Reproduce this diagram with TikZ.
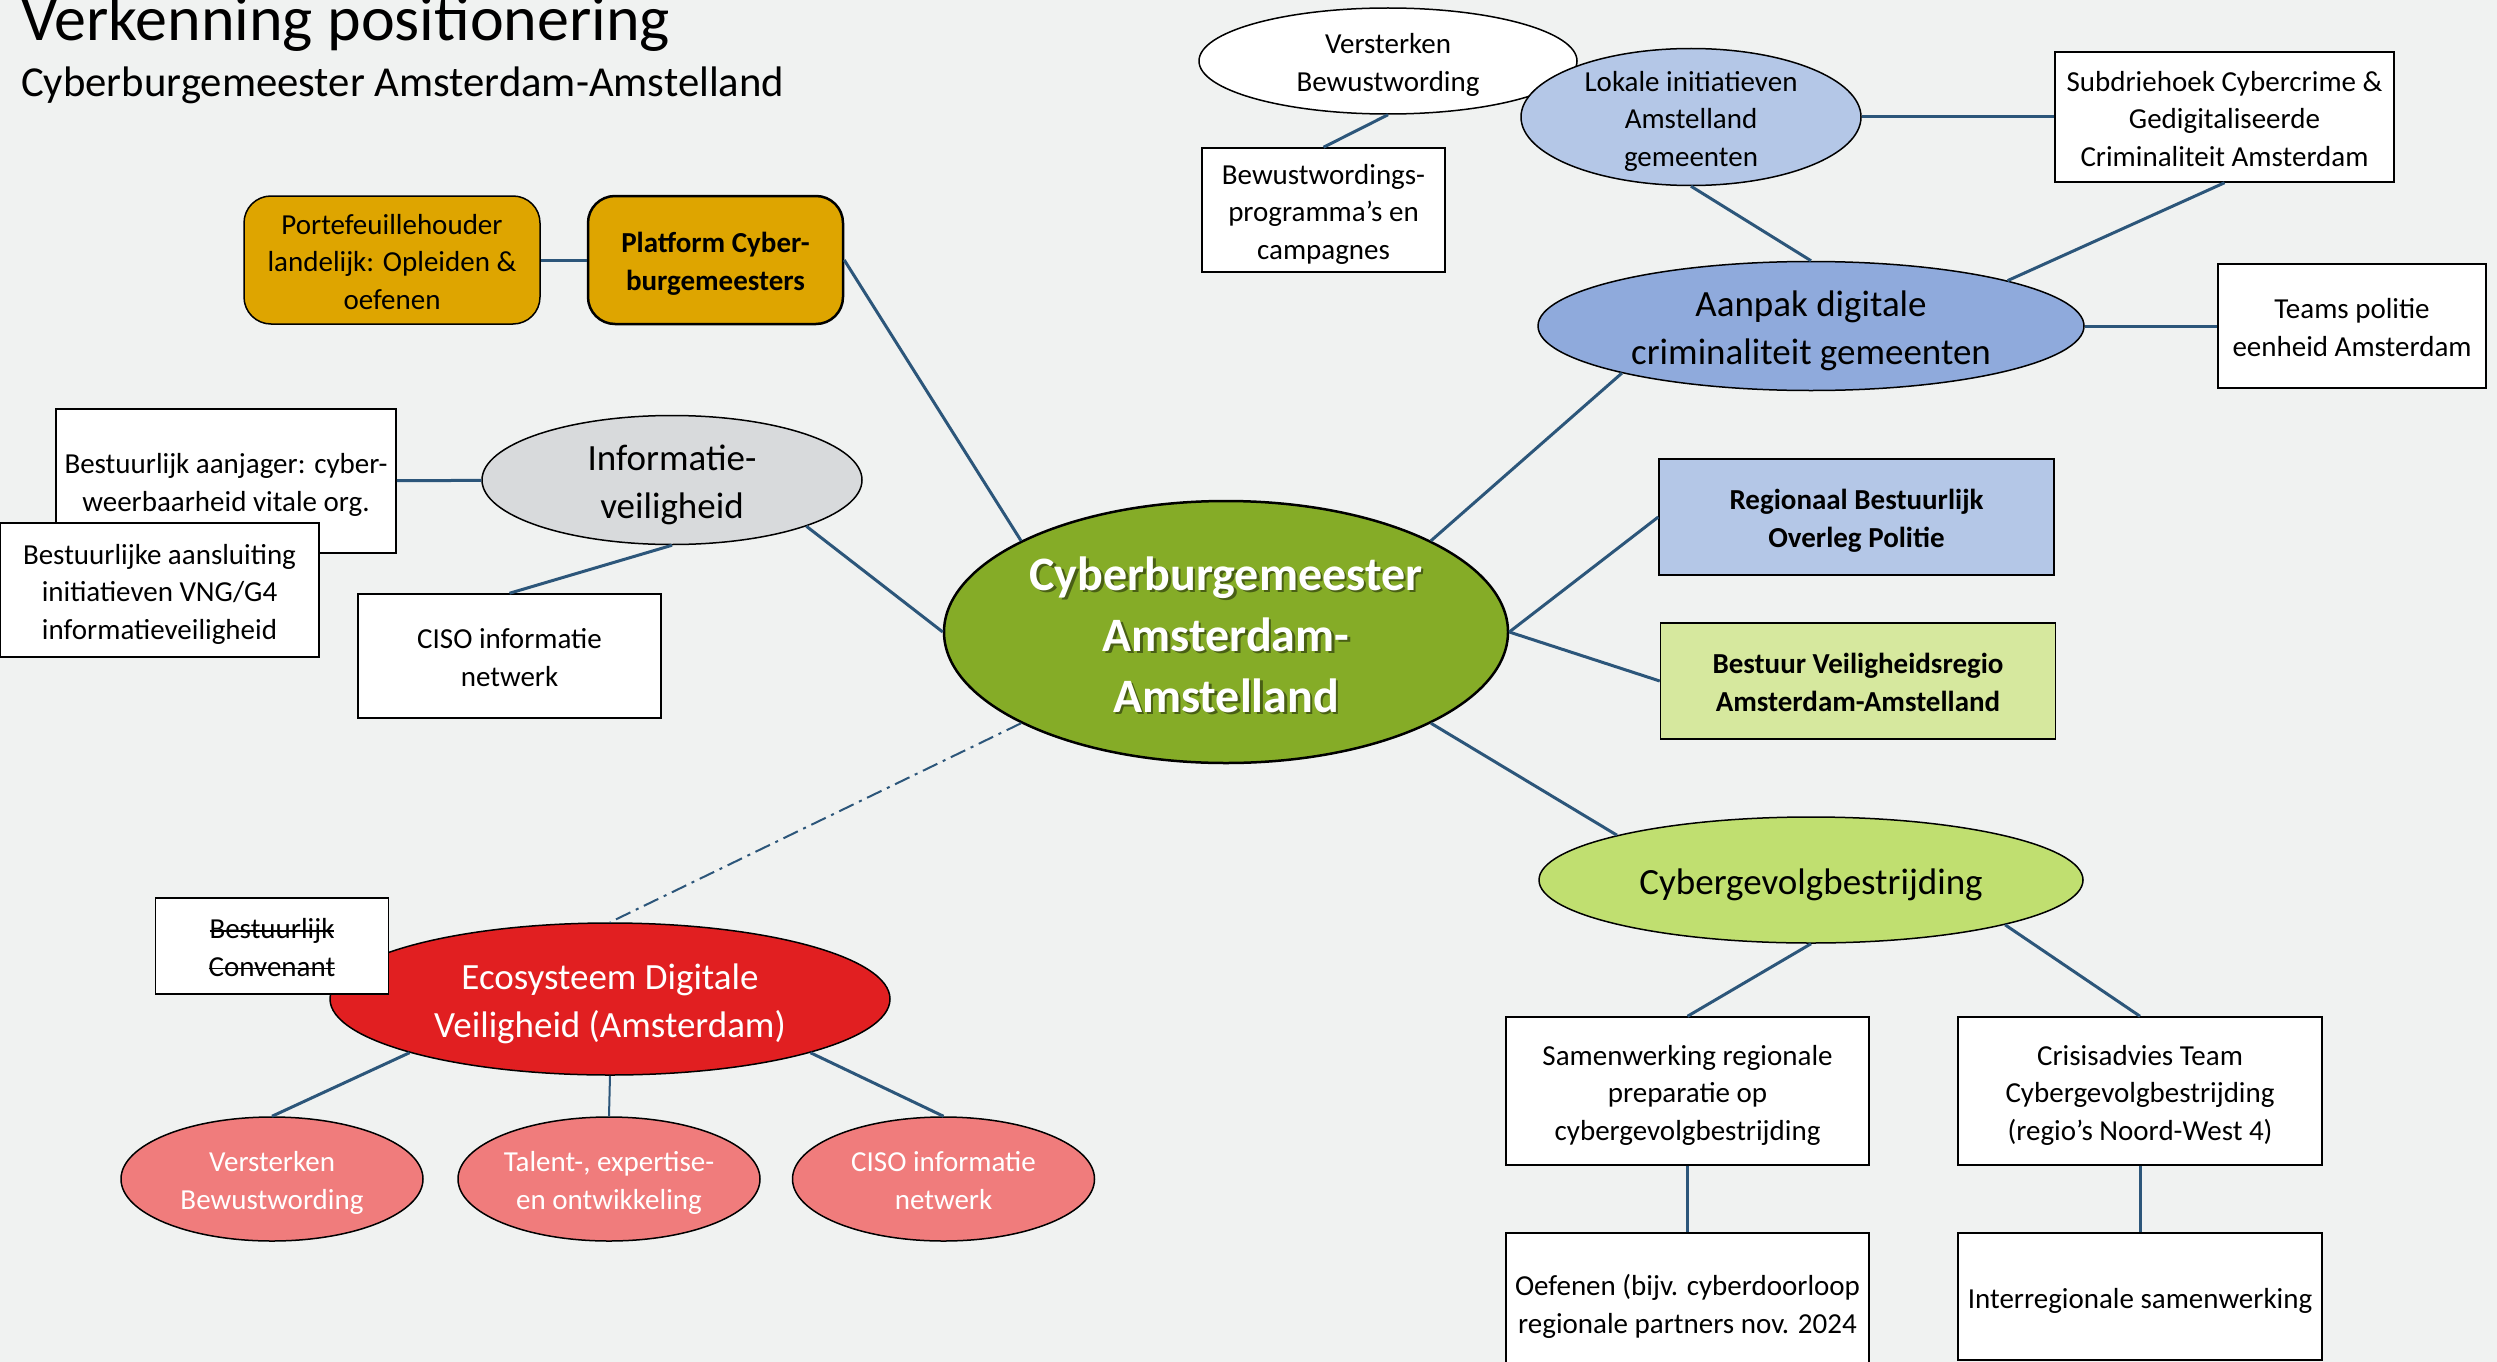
\documentclass[tikz,border=0pt]{standalone}
\usepackage{fontspec}
\setmainfont{Carlito}
\usepackage{tikz}
\usetikzlibrary{shapes.geometric}
\definecolor{achtergrond}{RGB}{240,242,241}
\definecolor{lijnblauw}{RGB}{44,86,122}
\definecolor{goud}{RGB}{222,165,0}
\definecolor{grijs}{RGB}{216,218,220}
\definecolor{lichtblauw}{RGB}{180,199,231}
\definecolor{blauw}{RGB}{143,170,220}
\definecolor{olijf}{RGB}{133,172,39}
\definecolor{lichtgroen}{RGB}{214,232,158}
\definecolor{limoen}{RGB}{192,223,112}
\definecolor{rood}{RGB}{225,31,33}
\definecolor{roze}{RGB}{240,124,124}
\newcommand{\klein}{\fontsize{29}{37.5}\selectfont}
\newcommand{\groot}{\fontsize{37}{48}\selectfont}
\newcommand{\bov}{\rule{0pt}{1.05em}}
\newcommand{\schaduw}[1]{\leavevmode\rlap{\kern2.5pt\raisebox{-2.5pt}{\textcolor{olijf!55!black}{#1}}}#1}
\newlength{\doorlengte}
\newcommand{\doorhalen}[1]{\settowidth{\doorlengte}{#1}\leavevmode\rlap{\rule[0.24em]{\doorlengte}{1.5pt}}#1}

\begin{document}
\begin{tikzpicture}[x=1pt, y=1pt,
		regels/.style={execute at end node={\rule[-0.25em]{0pt}{0pt}}},
		box/.style={regels, draw=black, line width=1.5pt, fill=white, align=center, inner xsep=2pt, inner ysep=0pt, font=\klein},
		goudbox/.style={box, fill=goud, rounded corners=27pt},
		ovaal/.style={regels, ellipse, draw=black, line width=1.5pt, align=center, inner xsep=0pt, inner ysep=-4pt, font=\klein},
		lijn/.style={draw=lijnblauw, line width=3pt}]
				%Achtergrond
				\useasboundingbox (0,0) rectangle (2497,-1362);
				\fill[achtergrond] (0,0) rectangle (2497,-1362);
				% Titel schrijven
				\node[anchor=base west, inner sep=0pt, font=\fontsize{64}{70}\selectfont] (titel) at (21,-41) {Verkenning positionering};
				\node[anchor=base west, inner sep=0pt, font=\fontsize{42.7}{50}\selectfont] (subtitel) at (21,-97) {Cyberburgemeester Amsterdam-Amstelland};
				% Midden
				\node[ovaal, fill=olijf, line width=2.5pt, text=white, font=\fontsize{48}{61}\selectfont\bfseries, minimum width=564pt, minimum height=262pt] (cbm) at (1226,-632) {\bov\schaduw{Cyberburgemeester}\\\schaduw{Amsterdam-}\\\schaduw{Amstelland}};
				% Links boven
				\node[goudbox, minimum width=296pt, minimum height=128pt] (porte) at (392,-260) {\bov Portefeuillehouder\\landelijk: Opleiden \&\\oefenen};
				\node[goudbox, line width=2.5pt, font=\klein\bfseries, minimum width=255pt, minimum height=128pt] (platform) at (715.5,-260) {\bov Platform Cyber-\\burgemeesters};
				% Informatieveiligheid
				\node[ovaal, fill=grijs, font=\groot, minimum width=380pt, minimum height=129pt] (info) at (672,-480) {\bov Informatie-\\veiligheid};
				\node[box, minimum width=340pt, minimum height=144pt] (aanjager) at (226,-481) {\bov Bestuurlijk aanjager: cyber-\\weerbaarheid vitale org.};
				\node[box, minimum width=319pt, minimum height=134pt] (aansluiting) at (159.5,-590) {\bov Bestuurlijke aansluiting\\initiatieven VNG/G4\\informatieveiligheid};
				\node[box, minimum width=303pt, minimum height=124pt] (ciso) at (509.5,-656) {\bov CISO informatie\\netwerk};
				% Aanpak digitale criminaliteit
				\node[ovaal, fill=white, minimum width=378pt, minimum height=106pt] (versterken) at (1388,-61) {\bov Versterken\\Bewustwording};
				\node[box, minimum width=243pt, minimum height=124pt] (programma) at (1323.5,-210) {\bov Bewustwordings-\\programma’s en\\campagnes};
				\node[ovaal, fill=lichtblauw, inner ysep=-9pt, minimum width=340pt, minimum height=137pt] (lokale) at (1691,-117) {\bov Lokale initiatieven\\Amstelland\\gemeenten};
				\node[box, minimum width=339pt, minimum height=130pt] (subdriehoek) at (2224.5,-117) {\bov Subdriehoek Cybercrime \&\\Gedigitaliseerde\\Criminaliteit Amsterdam};
				\node[ovaal, fill=blauw, font=\groot, minimum width=546pt, minimum height=129pt] (aanpak) at (1811,-326) {\bov Aanpak digitale\\criminaliteit gemeenten};
				\node[box, minimum width=268pt, minimum height=124pt] (teams) at (2352,-326) {\bov Teams politie\\eenheid Amsterdam};
				% Rechts
				\node[box, fill=lichtblauw, font=\klein\bfseries, minimum width=395pt, minimum height=116pt] (rbo) at (1856.5,-517) {\bov Regionaal Bestuurlijk\\Overleg Politie};
				\node[box, fill=lichtgroen, font=\klein\bfseries, minimum width=395pt, minimum height=116pt] (vr) at (1858,-681) {\bov Bestuur Veiligheidsregio\\Amsterdam-Amstelland};
				% Cybergevolgbestrijding
				\node[ovaal, fill=limoen, font=\groot, minimum width=544pt, minimum height=126pt] (gevolg) at (1811,-880) {\bov Cybergevolgbestrijding};
				\node[box, minimum width=363pt, minimum height=148pt] (samen) at (1687.5,-1091) {\bov Samenwerking regionale\\preparatie op\\cybergevolgbestrijding};
				\node[box, minimum width=364pt, minimum height=148pt] (crisis) at (2140,-1091) {\bov Crisisadvies Team\\Cybergevolgbestrijding\\(regio’s Noord-West 4)};
				\node[box, minimum width=363pt, minimum height=140pt] (oefenen) at (1687.5,-1303) {\bov Oefenen (bijv. cyberdoorloop\\regionale partners nov. 2024};
				\node[box, minimum width=364pt, minimum height=127pt] (interreg) at (2140,-1296.5) {\bov Interregionale samenwerking};
				% Ecosysteem
				\node[ovaal, fill=rood, text=white, font=\groot, minimum width=560pt, minimum height=152pt] (eco) at (610,-999) {\bov Ecosysteem Digitale\\Veiligheid (Amsterdam)};
				\node[box, minimum width=233pt, minimum height=96pt] (convenant) at (272,-946) {\bov\doorhalen{Bestuurlijk}\\\doorhalen{Convenant}};
				\node[ovaal, fill=roze, text=white, minimum width=302pt, minimum height=124pt] (bewust) at (272,-1179) {\bov Versterken\\Bewustwording};
				\node[ovaal, fill=roze, text=white, minimum width=302pt, minimum height=124pt] (talent) at (609,-1179) {\bov Talent-, expertise-\\en ontwikkeling};
				\node[ovaal, fill=roze, text=white, minimum width=302pt, minimum height=124pt] (cisonet) at (943.5,-1179) {\bov CISO informatie\\netwerk};
				% Verbindingen tekenen
				\draw[lijn] (porte) -- (platform);
				\draw[lijn] (platform.east) -- (cbm.156);
				\draw[lijn] (aanjager) -- (info);
				\draw[lijn] (ciso.north) -- (info.south);
				\draw[lijn] (info.-19) -- (cbm.west);
				\draw[lijn] (versterken.south) -- (programma.north);
				\draw[lijn] (lokale) -- (subdriehoek);
				\draw[lijn] (lokale.south) -- (aanpak.north);
				\draw[lijn] (subdriehoek.south) -- (aanpak.13);
				\draw[lijn] (aanpak) -- (teams);
				\draw[lijn] (cbm.24) -- (aanpak.194);
				\draw[lijn] (cbm.east) -- (rbo.west);
				\draw[lijn] (cbm.east) -- (vr.west);
				\draw[lijn] (cbm.336) -- (gevolg.167);
				\draw[lijn] (gevolg.south) -- (samen.north);
				\draw[lijn] (gevolg.-13) -- (crisis.north);
				\draw[lijn] (samen) -- (oefenen);
				\draw[lijn] (crisis) -- (interreg);
				\draw[lijn, line width=2pt, dash pattern=on 16pt off 6pt on 3pt off 6pt] (cbm.204) -- (eco.north);
				\draw[lijn] (eco.195) -- (bewust.north);
				\draw[lijn, line width=2pt] (eco.south) -- (talent.north);
				\draw[lijn] (eco.345) -- (cisonet.north);
\end{tikzpicture}
\end{document}
